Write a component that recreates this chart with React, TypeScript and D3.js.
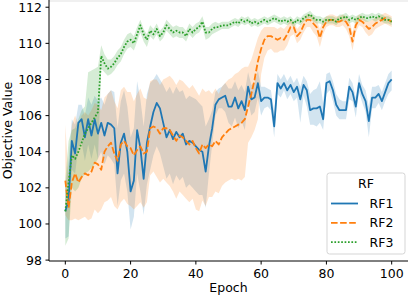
import React from 'react';
import * as d3 from 'd3';

// epochs 0..100
const epochs = [
  0, 1, 2, 3, 4, 5, 6, 7, 8, 9, 10, 11, 12, 13, 14, 15, 16, 17, 18, 19, 20,
  21, 22, 23, 24, 25, 26, 27, 28, 29, 30, 31, 32, 33, 34, 35, 36, 37, 38, 39, 40,
  41, 42, 43, 44, 45, 46, 47, 48, 49, 50, 51, 52, 53, 54, 55, 56, 57, 58, 59, 60,
  61, 62, 63, 64, 65, 66, 67, 68, 69, 70, 71, 72, 73, 74, 75, 76, 77, 78, 79, 80,
  81, 82, 83, 84, 85, 86, 87, 88, 89, 90, 91, 92, 93, 94, 95, 96, 97, 98, 99, 100,
];

const rf1Mean = [
  100.7, 101.3, 104.6, 103.9, 105.6, 105.8, 104.8, 105.8, 104.9, 105.8, 105.0,
  105.6, 104.9, 105.6, 105.5, 105.3, 102.8, 104.5, 105.0, 104.0, 101.8,
  102.4, 105.2, 104.2, 102.5, 104.5, 105.4, 106.2, 106.7, 106.4, 105.6,
  104.8, 105.2, 104.7, 105.1, 104.8, 105.0, 104.4, 104.6, 104.5, 104.3,
  104.1, 104.0, 102.9, 104.3, 105.3, 106.6, 106.9, 107.0, 107.1, 106.5,
  106.5, 107.0, 106.4, 106.8, 106.3, 107.6, 106.9, 107.0, 107.8, 106.8,
  107.0, 107.0, 106.9, 105.4, 107.8, 107.5, 107.8, 107.4, 107.7, 107.3,
  107.6, 106.9, 107.7, 107.4, 106.3, 106.4, 106.4, 106.5, 105.8, 107.8,
  107.9, 107.4, 106.6, 106.3, 106.3, 106.3, 107.6, 107.3, 106.5, 107.8,
  107.2, 106.8, 105.7, 107.0, 107.0, 107.2, 106.8, 107.3, 107.8, 108.0,
];
const rf1Lo = [
  99.2, 99.3, 103.0, 102.8, 104.3, 104.5, 103.5, 104.4, 103.6, 104.4, 103.6,
  104.0, 103.3, 103.8, 103.6, 103.3, 101.0, 102.4, 102.8, 101.8, 99.7,
  100.4, 102.8, 101.8, 100.5, 102.2, 103.0, 103.8, 104.3, 103.9, 103.2,
  102.5, 102.8, 102.2, 102.7, 102.4, 102.6, 102.0, 102.2, 102.0, 101.8,
  101.6, 101.6, 100.9, 102.8, 104.4, 106.0, 106.4, 106.4, 106.2, 105.6,
  105.4, 105.9, 105.3, 105.7, 105.2, 106.8, 106.0, 106.2, 107.0, 106.0,
  106.4, 106.5, 106.3, 104.8, 107.2, 107.0, 107.4, 106.9, 107.2, 106.8,
  107.0, 105.6, 107.1, 106.5, 105.5, 105.5, 105.4, 105.6, 105.2, 107.2,
  107.4, 106.8, 106.0, 105.8, 105.8, 105.8, 106.9, 106.8, 105.9, 107.3,
  106.7, 106.2, 104.8, 106.4, 106.4, 106.7, 106.3, 106.8, 107.2, 107.4,
];
const rf1Hi = [
  102.0, 103.5, 105.8, 105.5, 106.6, 106.6, 106.0, 107.0, 106.6, 107.1, 106.8,
  107.0, 106.6, 107.2, 107.4, 107.3, 105.3, 106.8, 107.4, 106.5, 104.8,
  105.3, 107.9, 106.9, 105.4, 107.2, 107.8, 108.0, 108.3, 108.0, 107.7,
  107.3, 107.6, 107.2, 107.6, 107.3, 107.4, 106.9, 107.1, 107.0, 106.9,
  106.7, 106.5, 105.4, 105.8, 106.3, 107.3, 107.5, 107.6, 107.8, 107.5,
  107.5, 107.9, 107.4, 107.7, 107.3, 108.4, 107.7, 107.8, 108.5, 107.6,
  107.6, 107.5, 107.4, 106.2, 108.3, 108.0, 108.3, 107.9, 108.2, 107.8,
  108.1, 107.6, 108.2, 107.9, 107.2, 107.4, 107.5, 107.9, 106.7, 108.3,
  108.4, 107.9, 107.2, 106.9, 106.8, 106.8, 108.1, 107.8, 107.0, 108.3,
  107.7, 107.4, 106.5, 107.6, 107.6, 107.7, 107.3, 107.8, 108.3, 108.5,
];

const rf2Mean = [
  102.4, 100.9, 102.3, 102.8, 102.3, 102.6, 102.8, 102.7, 102.9, 103.4, 103.3,
  103.0, 104.0, 104.3, 104.5, 103.9, 103.5, 104.4, 104.6, 104.3, 104.2,
  103.8, 104.1, 104.3, 103.9, 104.0, 105.3, 105.4, 105.3, 105.0, 105.3,
  105.3, 105.2, 104.9, 104.6, 104.9, 104.8, 104.6, 104.4, 104.6, 104.2,
  103.9, 104.4, 104.2, 104.4, 104.3, 104.6, 104.4, 104.8, 105.0, 105.2,
  105.3, 105.4, 105.5, 105.6, 105.8, 106.5, 107.2, 108.0, 109.0, 109.7,
  110.2, 110.4, 110.4, 110.3, 110.2, 110.3, 110.2, 110.5, 110.9, 110.9,
  110.4, 110.6, 111.0, 111.3, 111.3, 111.1, 110.9, 110.3, 110.9, 111.2,
  111.3, 111.3, 111.2, 111.2, 111.3, 111.2, 110.9, 110.1, 111.0, 111.3,
  111.2, 111.0, 110.8, 110.9, 111.1, 111.2, 111.3, 111.4, 111.3, 111.2,
];
const rf2Lo = [
  100.5, 100.2, 100.2, 100.3, 100.2, 100.3, 100.4, 100.2, 100.3, 100.8, 100.6,
  100.8, 101.2, 101.3, 101.5, 101.0, 100.8, 101.2, 101.4, 101.1, 101.0,
  100.8, 101.0, 101.2, 100.9, 101.2, 102.7, 102.9, 102.6, 102.3, 102.5,
  102.3, 102.1, 101.8, 101.4, 101.8, 101.6, 101.4, 101.2, 101.4, 100.8,
  100.7, 101.3, 101.0, 101.5, 101.5, 101.8, 101.7, 102.1, 102.3, 102.4,
  102.5, 102.4, 102.5, 102.4, 102.6, 104.5, 104.8, 105.2, 105.8, 108.3,
  109.2, 109.6, 109.7, 109.5, 109.5, 109.6, 109.6, 109.9, 110.4, 110.5,
  110.0, 110.2, 110.6, 110.9, 110.9, 110.6, 110.4, 109.8, 110.5, 110.9,
  111.0, 111.0, 110.9, 110.9, 111.0, 110.8, 110.4, 109.6, 110.6, 111.0,
  110.9, 110.6, 110.4, 110.5, 110.8, 110.9, 111.0, 111.1, 111.0, 110.9,
];
const rf2Hi = [
  105.5, 102.6, 105.5, 106.0, 105.5, 106.0, 106.2, 106.0, 106.3, 106.7, 106.6,
  106.3, 107.0, 107.2, 107.4, 106.8, 106.4, 107.4, 107.6, 107.3, 107.3,
  106.8, 107.2, 107.5, 107.0, 106.9, 107.9, 108.0, 108.0, 107.7, 108.0,
  108.1, 108.2, 108.0, 107.7, 108.0, 107.9, 107.7, 107.5, 107.7, 107.4,
  107.1, 107.5, 107.3, 107.4, 107.2, 107.5, 107.2, 107.6, 107.8, 108.0,
  108.1, 108.3, 108.4, 108.6, 108.7, 108.7, 109.1, 109.7, 110.3, 110.7,
  110.9, 110.9, 110.9, 110.9, 110.8, 110.9, 110.8, 111.0, 111.3, 111.2,
  110.8, 111.0, 111.4, 111.6, 111.6, 111.5, 111.3, 110.8, 111.3, 111.5,
  111.6, 111.6, 111.5, 111.5, 111.6, 111.5, 111.3, 110.6, 111.4, 111.6,
  111.5, 111.3, 111.2, 111.3, 111.4, 111.5, 111.6, 111.7, 111.6, 111.5,
];

const rf3Mean = [
  100.7, 102.3, 103.8, 103.6, 104.0, 104.5, 105.0, 105.3, 105.6, 105.9, 106.2,
  109.3, 108.9, 108.6, 108.7, 108.9, 109.2, 109.4, 109.8, 110.1, 110.2,
  110.0, 110.5, 111.0, 110.5, 110.2, 110.7, 110.5, 110.8, 110.4, 110.6,
  111.0, 110.8, 110.6, 110.7, 110.6, 110.6, 110.4, 110.8, 110.6, 110.8,
  110.9, 111.2, 110.6, 110.6, 110.8, 110.9, 110.9, 111.0, 111.0, 111.0,
  111.1, 111.2, 111.1, 111.3, 111.2, 111.3, 111.1, 111.2, 111.1, 111.2,
  111.3, 111.2, 111.3, 111.4, 111.3, 111.2, 111.3, 111.2, 111.3, 111.1,
  111.3, 111.2, 111.4, 111.5, 111.6, 111.4, 111.3, 111.3, 111.2, 111.3,
  111.3, 111.3, 111.2, 111.4, 111.4, 111.5, 111.3, 111.4, 111.3, 111.4,
  111.5, 111.4, 111.4, 111.5, 111.4, 111.5, 111.4, 111.3, 111.3, 111.2,
];
const rf3Lo = [
  98.8, 99.2, 102.0, 101.8, 102.0, 102.5, 102.8, 102.9, 103.1, 103.3, 103.6,
  108.6, 108.4, 108.2, 108.3, 108.5, 108.8, 109.0, 109.4, 109.7, 109.8,
  109.6, 110.1, 110.6, 110.1, 109.8, 110.4, 110.2, 110.5, 110.1, 110.3,
  110.7, 110.5, 110.3, 110.4, 110.3, 110.3, 110.1, 110.5, 110.3, 110.5,
  110.6, 110.9, 110.2, 110.3, 110.5, 110.6, 110.7, 110.8, 110.8, 110.8,
  110.9, 111.0, 110.9, 111.1, 111.0, 111.1, 110.9, 111.0, 110.9, 111.0,
  111.1, 111.0, 111.1, 111.2, 111.1, 111.0, 111.1, 111.0, 111.1, 110.9,
  111.1, 111.0, 111.2, 111.3, 111.4, 111.2, 111.1, 111.1, 111.0, 111.1,
  111.1, 111.1, 111.0, 111.2, 111.2, 111.3, 111.1, 111.2, 111.1, 111.2,
  111.3, 111.2, 111.2, 111.3, 111.2, 111.3, 111.2, 111.1, 111.1, 111.0,
];
const rf3Hi = [
  102.4, 104.6, 105.2, 105.3, 105.8, 106.3, 106.5, 108.4, 108.5, 108.6, 108.7,
  109.9, 109.4, 109.1, 109.1, 109.3, 109.6, 109.8, 110.2, 110.5, 110.6,
  110.4, 110.9, 111.3, 110.8, 110.5, 111.0, 110.8, 111.1, 110.7, 110.9,
  111.3, 111.1, 110.9, 111.0, 110.9, 110.9, 110.7, 111.1, 110.9, 111.1,
  111.2, 111.5, 110.9, 110.9, 111.1, 111.2, 111.1, 111.2, 111.2, 111.2,
  111.3, 111.4, 111.3, 111.5, 111.4, 111.5, 111.3, 111.4, 111.3, 111.4,
  111.5, 111.4, 111.5, 111.6, 111.5, 111.4, 111.5, 111.4, 111.5, 111.3,
  111.5, 111.4, 111.6, 111.7, 111.8, 111.6, 111.5, 111.5, 111.4, 111.5,
  111.5, 111.5, 111.4, 111.6, 111.6, 111.7, 111.5, 111.6, 111.5, 111.6,
  111.7, 111.6, 111.6, 111.7, 111.6, 111.7, 111.6, 111.5, 111.5, 111.4,
];

const seriesNames = ['RF1', 'RF2', 'RF3'];
const xTicks = [0, 20, 40, 60, 80, 100];
const yTicks = [98, 100, 102, 104, 106, 108, 110, 112];

const colors = ['#1f77b4', '#ff7f0e', '#2ca02c'];
const dashes = ['none', '6.6,2.5', '1.7,1.7'];

const W = 408;
const H = 298;
const left = 49;
const bottom = 261;
const font = 'DejaVu Sans, sans-serif';
const fs = 12.5;

export default function App() {
  const x = d3.scaleLinear().domain([-5, 105]).range([left, W]);
  const y = d3.scaleLinear().domain([97.95, 112.4]).range([bottom, 0]);

  const series = [
    {mean: rf1Mean, lo: rf1Lo, hi: rf1Hi},
    {mean: rf2Mean, lo: rf2Lo, hi: rf2Hi},
    {mean: rf3Mean, lo: rf3Lo, hi: rf3Hi},
  ];

  const area = (s) =>
    d3.area<number>()
      .x((e) => x(e))
      .y0((_, i) => y(s.lo[i]))
      .y1((_, i) => y(s.hi[i]))(epochs);

  const line = (s) =>
    d3.line<number>()
      .x((e) => x(e))
      .y((_, i) => y(s.mean[i]))(epochs);

  // legend box
  const lg = {x: 327, y: 173, w: 78, h: 81};

  return (
    <svg width={W} height={H} style={{position: 'absolute', left: 0, top: 0}} fontFamily={font}>
      <rect width={W} height={H} fill="#fff"/>
      <rect x={left} y={0} width={W - left} height={2} fill="#f0f0f0"/>

      {series.map((s, i) => (
        <path key={'b' + i} d={area(s) || ''} fill={colors[i]} fillOpacity={0.2} stroke="none"/>
      ))}
      {series.map((s, i) => (
        <path key={'l' + i} d={line(s) || ''} fill="none" stroke={colors[i]}
              strokeWidth={1.8} strokeDasharray={dashes[i]} strokeLinejoin="round"/>
      ))}

      {/* axes */}
      <line x1={left} x2={left} y1={0} y2={bottom} stroke="#000" strokeWidth={1}/>
      <line x1={left} x2={W} y1={bottom} y2={bottom} stroke="#000" strokeWidth={1}/>

      {yTicks.map((t) => (
        <g key={'y' + t}>
          <line x1={left - 3.5} x2={left} y1={y(t)} y2={y(t)} stroke="#000" strokeWidth={1}/>
          <text x={left - 7} y={y(t)} dy="0.36em" textAnchor="end" fontSize={fs} fill="#000">{t}</text>
        </g>
      ))}
      {xTicks.map((t) => (
        <g key={'x' + t}>
          <line x1={x(t)} x2={x(t)} y1={bottom} y2={bottom + 3.5} stroke="#000" strokeWidth={1}/>
          <text x={x(t)} y={bottom + 17} textAnchor="middle" fontSize={fs} fill="#000">{t}</text>
        </g>
      ))}

      <text x={(left + W) / 2} y={292} textAnchor="middle" fontSize={fs} fill="#000">Epoch</text>
      <text transform={`translate(12, ${bottom / 2}) rotate(-90)`} textAnchor="middle"
            fontSize={fs} fill="#000">Objective Value</text>

      {/* legend */}
      <rect x={lg.x} y={lg.y} width={lg.w} height={lg.h} rx={2.5} fill="#fff" fillOpacity={0.8}
            stroke="#d5d5d5" strokeWidth={1}/>
      <text x={lg.x + lg.w / 2} y={lg.y + 14.5} textAnchor="middle" fontSize={fs} fill="#000">RF</text>
      {seriesNames.map((n, i) => (
        <g key={n} transform={`translate(0, ${203.5 + i * 19.3})`}>
          <line x1={331} x2={358} y1={0} y2={0} stroke={colors[i]} strokeWidth={1.8}
                strokeDasharray={dashes[i]}/>
          <text x={369.5} y={0} dy="0.36em" fontSize={fs} fill="#000">{n}</text>
        </g>
      ))}
    </svg>
  );
}
